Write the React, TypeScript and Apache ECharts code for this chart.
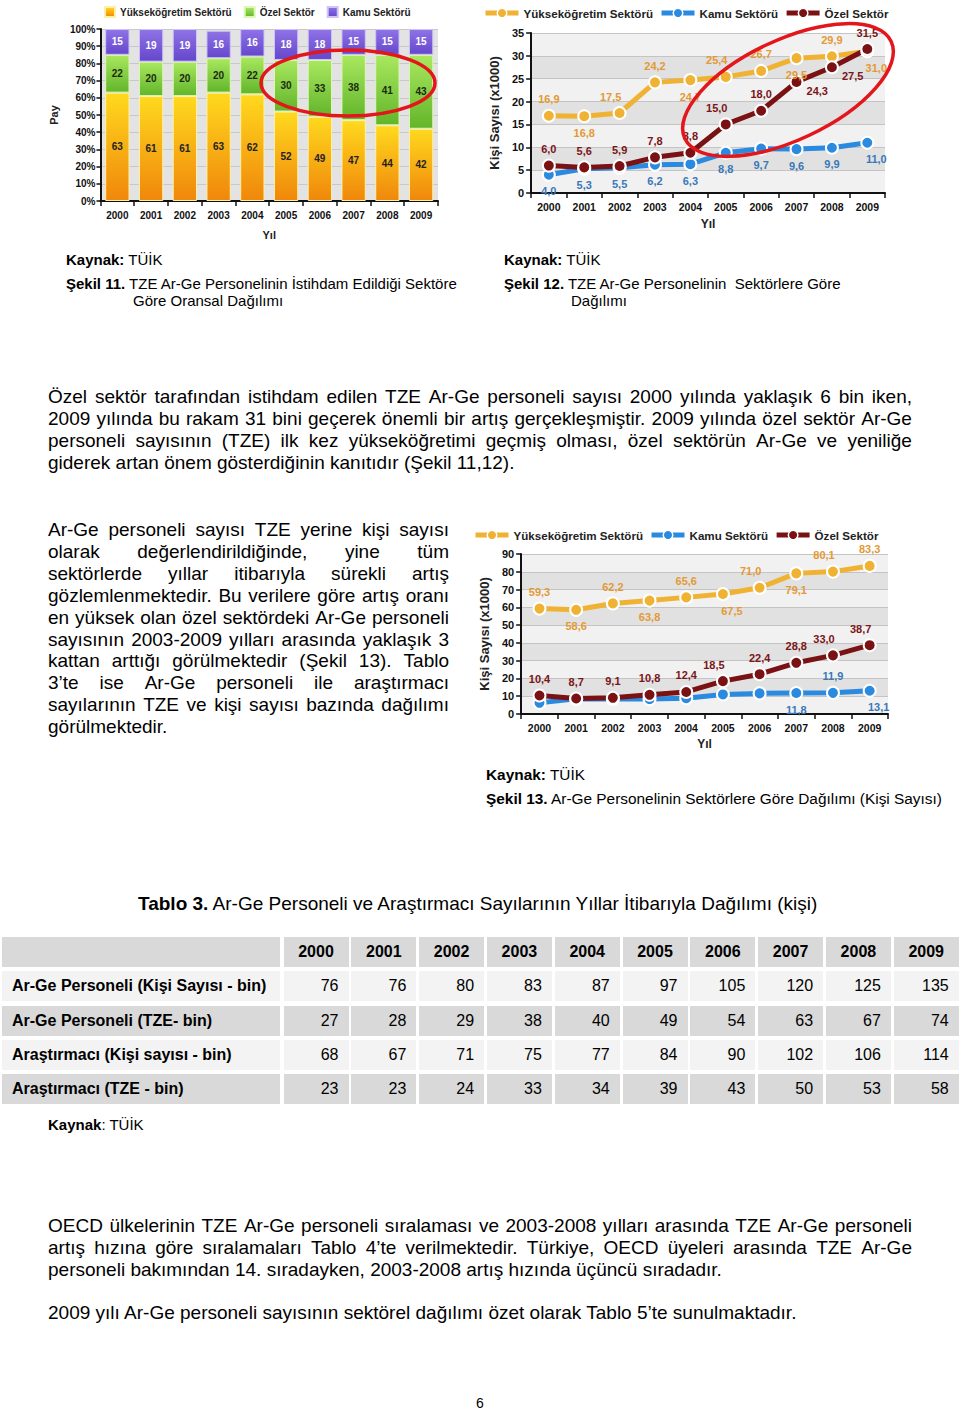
import React, { useEffect, useRef } from "react";
import * as echarts from "echarts";

const FONT = '"Liberation Sans", Arial, Helvetica, sans-serif';

// ---------- DATA ----------
const years = ["2000", "2001", "2002", "2003", "2004", "2005", "2006", "2007", "2008", "2009"];

// Şekil 11 – share (%)
const shareYuk = [63, 61, 61, 63, 62, 52, 49, 47, 44, 42];
const shareOzel = [22, 20, 20, 20, 22, 30, 33, 38, 41, 43];
const shareKamu = [15, 19, 19, 16, 16, 18, 18, 15, 15, 15];
const shareTicks = [0, 10, 20, 30, 40, 50, 60, 70, 80, 90, 100];

// Şekil 12 – TZE (x1000)
const tzeYuk = [16.9, 16.8, 17.5, 24.2, 24.7, 25.4, 26.7, 29.5, 29.9, 31.0];
const tzeKamu = [4.0, 5.3, 5.5, 6.2, 6.3, 8.8, 9.7, 9.6, 9.9, 11.0];
const tzeOzel = [6.0, 5.6, 5.9, 7.8, 8.8, 15.0, 18.0, 24.3, 27.5, 31.5];
const tzeYukPos = ["t", "b", "tl", "t", "b", "tl", "t", "b", "t", "br"];
const tzeKamuPos = ["b", "b", "b", "b", "b", "b", "b", "b", "b", "br"];
const tzeOzelPos = ["t", "t", "t", "t", "t", "tl", "t", "r", "r", "t"];

// Şekil 13 – headcount (x1000)
const kisiYuk = [59.3, 58.6, 62.2, 63.8, 65.6, 67.5, 71.0, 79.1, 80.1, 83.3];
const kisiKamu = [6.3, 8.5, 8.5, 8.4, 8.9, 11.0, 11.6, 11.8, 11.9, 13.1];
const kisiOzel = [10.4, 8.7, 9.1, 10.8, 12.4, 18.5, 22.4, 28.8, 33.0, 38.7];
const kisiYukPos = ["t", "b", "t", "b", "t", "br", "tl", "b", "tl", "t"];
const kisiKamuPos = ["n", "n", "n", "n", "n", "n", "n", "b", "t", "br"];
const kisiOzelPos = ["t", "t", "t", "t", "t", "tl", "t", "t", "tl", "tl"];

// Tablo 3
const tableLabels = [
  "Ar-Ge Personeli (Kişi Sayısı - bin)",
  "Ar-Ge Personeli (TZE- bin)",
  "Araştırmacı (Kişi sayısı - bin)",
  "Araştırmacı (TZE - bin)",
];
const personelKisi = [76, 76, 80, 83, 87, 97, 105, 120, 125, 135];
const personelTze = [27, 28, 29, 38, 40, 49, 54, 63, 67, 74];
const arastirmaciKisi = [68, 67, 71, 75, 77, 84, 90, 102, 106, 114];
const arastirmaciTze = [23, 23, 24, 33, 34, 39, 43, 50, 53, 58];
const tableValues = [personelKisi, personelTze, arastirmaciKisi, arastirmaciTze];

// Text
const para1 = [
  "Özel sektör tarafından istihdam edilen TZE Ar-Ge personeli sayısı 2000 yılında yaklaşık 6 bin iken,",
  "2009 yılında bu rakam 31 bini geçerek önemli bir artış gerçekleşmiştir. 2009 yılında özel sektör Ar-Ge",
  "personeli sayısının (TZE) ilk kez yükseköğretimi geçmiş olması, özel sektörün Ar-Ge ve yeniliğe",
  "giderek artan önem gösterdiğinin kanıtıdır (Şekil 11,12).",
];
const para2 = [
  "Ar-Ge personeli sayısı TZE yerine kişi sayısı",
  "olarak değerlendirildiğinde, yine tüm",
  "sektörlerde yıllar itibarıyla sürekli artış",
  "gözlemlenmektedir. Bu verilere göre artış oranı",
  "en yüksek olan özel sektördeki Ar-Ge personeli",
  "sayısının 2003-2009 yılları arasında yaklaşık 3",
  "kattan arttığı görülmektedir (Şekil 13). Tablo",
  "3’te ise Ar-Ge personeli ile araştırmacı",
  "sayılarının TZE ve kişi sayısı bazında dağılımı",
  "görülmektedir.",
];
const para3 = [
  "OECD ülkelerinin TZE Ar-Ge personeli sıralaması ve 2003-2008 yılları arasında TZE Ar-Ge personeli",
  "artış hızına göre sıralamaları Tablo 4’te verilmektedir. Türkiye, OECD üyeleri arasında TZE Ar-Ge",
  "personeli bakımından 14. sıradayken, 2003-2008 artış hızında üçüncü sıradadır.",
];
const para4 = "2009 yılı Ar-Ge personeli sayısının sektörel dağılımı özet olarak Tablo 5’te sunulmaktadır.";

// ---------- HELPERS ----------
const fmt = (v: number) => v.toFixed(1).replace(".", ",");
const bold = (size: number, color = "#111") => ({
  fontFamily: FONT,
  fontWeight: "bold" as const,
  fontSize: size,
  color,
});

function labelFor(code: string): any {
  switch (code) {
    case "t":
      return { show: true, position: "top", distance: 4 };
    case "b":
      return { show: true, position: "bottom", distance: 4 };
    case "tl":
      return { show: true, position: "top", distance: 4, offset: [-9, 0] };
    case "br":
      return { show: true, position: "bottom", distance: 4, offset: [9, 0] };
    case "r":
      return { show: true, position: "right", distance: 3, offset: [0, 9] };
    default:
      return { show: false };
  }
}

function lineSeries(name: string, values: number[], pos: string[], color: string, labelColor: string) {
  return {
    name,
    type: "line",
    data: values.map((v, i) => ({ value: v, label: labelFor(pos[i]) })),
    symbol: "circle",
    symbolSize: 12,
    lineStyle: { width: 5, color },
    itemStyle: { color, borderColor: "#ffffff", borderWidth: 2 },
    label: { show: true, ...bold(11, labelColor), formatter: (p: any) => fmt(p.value) },
    emphasis: { disabled: true },
  };
}

function lineOption(cfg: any) {
  return {
    animation: false,
    legend: {
      left: 3,
      top: cfg.legendTop,
      padding: 0,
      itemWidth: 33,
      itemHeight: 12,
      itemGap: 6,
      lineStyle: { width: 5 },
      itemStyle: { borderColor: "#ffffff", borderWidth: 1.5 },
      textStyle: bold(11.6, "#222"),
      data: ["Yükseköğretim Sektörü", "Kamu Sektörü", "Özel Sektör"],
    },
    grid: cfg.grid,
    xAxis: {
      type: "category",
      data: years,
      axisLine: { lineStyle: { color: "#111", width: 2 } },
      axisTick: { show: true, length: 5, lineStyle: { color: "#111", width: 1.5 } },
      axisLabel: { ...bold(10.5), margin: 8 },
      name: "Yıl",
      nameLocation: "middle",
      nameGap: cfg.xNameGap,
      nameTextStyle: bold(12, "#222"),
    },
    yAxis: {
      type: "value",
      min: 0,
      max: cfg.max,
      interval: cfg.interval,
      axisLine: { show: true, lineStyle: { color: "#111", width: 2 } },
      axisTick: { show: true, length: 5, lineStyle: { color: "#111", width: 1.5 } },
      axisLabel: { ...bold(11), margin: 7 },
      splitLine: { lineStyle: { color: "#c4c4c4" } },
      splitArea: { show: true, areaStyle: { color: ["#f1f1f1", "#e1e1e1"] } },
      name: "Kişi Sayısı (x1000)",
      nameLocation: "middle",
      nameGap: cfg.yNameGap,
      nameTextStyle: bold(13, "#222"),
    },
    series: cfg.series,
    graphic: cfg.graphic || [],
  };
}

function Chart({ option, style }: { option: any; style: any }) {
  const ref = useRef<HTMLDivElement>(null);
  useEffect(() => {
    if (!ref.current) return;
    const c = echarts.init(ref.current, null, { renderer: "svg" });
    c.setOption(option);
    return () => c.dispose();
  }, []);
  return <div ref={ref} style={{ position: "absolute", ...style }} />;
}

const grad = (a: string, b: string) =>
  new echarts.graphic.LinearGradient(0, 0, 0, 1, [
    { offset: 0, color: a },
    { offset: 1, color: b },
  ]);

function barOption() {
  const barLabel = (color: string) => ({ show: true, position: "inside", ...bold(10, color) });
  return {
    animation: false,
    legend: {
      left: 64,
      top: 6,
      padding: 0,
      icon: "rect",
      itemWidth: 10,
      itemHeight: 10,
      itemGap: 12,
      textStyle: bold(10, "#222"),
      data: ["Yükseköğretim Sektörü", "Özel Sektör", "Kamu Sektörü"],
    },
    grid: { left: 52, right: 12, top: 29, bottom: 43, show: true, backgroundColor: "#e3e3e3", borderWidth: 0 },
    xAxis: {
      type: "category",
      data: years,
      axisLine: { lineStyle: { color: "#111", width: 2 } },
      axisTick: { show: true, length: 5, lineStyle: { color: "#111", width: 1.5 } },
      axisLabel: { ...bold(10), margin: 9 },
      name: "Yıl",
      nameLocation: "middle",
      nameGap: 28,
      nameTextStyle: bold(11, "#222"),
    },
    yAxis: {
      type: "value",
      min: shareTicks[0],
      max: shareTicks[shareTicks.length - 1],
      interval: 10,
      axisLine: { show: true, lineStyle: { color: "#111", width: 2 } },
      axisTick: { show: true, length: 4, lineStyle: { color: "#111", width: 1.5 } },
      axisLabel: { ...bold(10), margin: 5, formatter: "{value}%" },
      splitLine: { lineStyle: { color: "#c8c8c8" } },
      name: "Pay",
      nameLocation: "middle",
      nameGap: 37,
      nameTextStyle: bold(11, "#222"),
    },
    series: [
      {
        name: "Yükseköğretim Sektörü",
        type: "bar",
        stack: "s",
        barWidth: "72%",
        data: shareYuk,
        itemStyle: { color: grad("#ffd91e", "#f0870b"), borderColor: "#fff0a8", borderWidth: 1 },
        label: barLabel("#222"),
      },
      {
        name: "Özel Sektör",
        type: "bar",
        stack: "s",
        data: shareOzel,
        itemStyle: { color: grad("#a9e85f", "#62b52a"), borderColor: "#dcf7b8", borderWidth: 1 },
        label: barLabel("#1d2a10"),
      },
      {
        name: "Kamu Sektörü",
        type: "bar",
        stack: "s",
        data: shareKamu,
        itemStyle: { color: grad("#8f73e6", "#6547cc"), borderColor: "#cfc4f5", borderWidth: 1 },
        label: barLabel("#ffffff"),
      },
    ],
    graphic: [
      {
        type: "ellipse",
        x: 308,
        y: 83,
        shape: { cx: 0, cy: 0, rx: 87, ry: 33 },
        style: { fill: "none", stroke: "#e3161c", lineWidth: 3.5 },
        z: 100,
      },
    ],
  };
}

const line2 = lineOption({
  legendTop: 7,
  grid: { left: 45, right: 15, top: 33, bottom: 39 },
  xNameGap: 25,
  yNameGap: 28,
  max: 35,
  interval: 5,
  series: [
    lineSeries("Yükseköğretim Sektörü", tzeYuk, tzeYukPos, "#f0b232", "#e39a35"),
    lineSeries("Kamu Sektörü", tzeKamu, tzeKamuPos, "#2a8ae0", "#3a78b8"),
    lineSeries("Özel Sektör", tzeOzel, tzeOzelPos, "#7a1214", "#7a1518"),
  ],
  graphic: [
    {
      type: "ellipse",
      x: 308,
      y: 90,
      rotation: 0.44,
      shape: { cx: 0, cy: 0, rx: 114, ry: 50 },
      style: { fill: "none", stroke: "#e3161c", lineWidth: 3.5 },
      z: 100,
    },
  ],
});

const line3 = lineOption({
  legendTop: 9,
  grid: { left: 47, right: 12, top: 34, bottom: 41 },
  xNameGap: 22,
  yNameGap: 25,
  max: 90,
  interval: 10,
  series: [
    lineSeries("Yükseköğretim Sektörü", kisiYuk, kisiYukPos, "#f0b232", "#e39a35"),
    lineSeries("Kamu Sektörü", kisiKamu, kisiKamuPos, "#2a8ae0", "#3a78b8"),
    lineSeries("Özel Sektör", kisiOzel, kisiOzelPos, "#7a1214", "#7a1518"),
  ],
});

// ---------- TEXT COMPONENTS ----------
function JLine({ text, last }: { text: string; last?: boolean }) {
  if (last) return <div style={{ whiteSpace: "nowrap" }}>{text}</div>;
  const words = text.split(" ");
  return (
    <div style={{ display: "flex", justifyContent: "space-between", whiteSpace: "nowrap" }}>
      {words.map((w, i) => (
        <span key={i}>{w}</span>
      ))}
    </div>
  );
}

function Para({ lines, left, top, width, lh }: { lines: string[]; left: number; top: number; width: number; lh: number }) {
  return (
    <div style={{ position: "absolute", left, top, width, fontSize: 19, lineHeight: lh + "px" }}>
      {lines.map((l, i) => (
        <JLine key={i} text={l} last={i === lines.length - 1} />
      ))}
    </div>
  );
}

function T({ left, top, size = 15, children, style }: any) {
  return (
    <div style={{ position: "absolute", left, top, fontSize: size, lineHeight: "18px", whiteSpace: "nowrap", ...style }}>
      {children}
    </div>
  );
}

function Table() {
  const rowTops = [937, 971, 1006, 1040, 1074];
  const rowBg = ["#d9d9d9", "#f3f3f3", "#d9d9d9", "#f3f3f3", "#d9d9d9"];
  const colLeft = (i: number) => 283.5 + i * 67.8;
  const cells: any[] = [];
  rowTops.forEach((top, r) => {
    cells.push(
      <div
        key={"l" + r}
        style={{
          position: "absolute",
          left: 2,
          top,
          width: 278,
          height: 30,
          background: rowBg[r],
          fontWeight: "bold",
          fontSize: 16,
          lineHeight: "30px",
          paddingLeft: 10,
          boxSizing: "border-box",
          whiteSpace: "nowrap",
        }}
      >
        {r === 0 ? "" : tableLabels[r - 1]}
      </div>
    );
    years.forEach((y, c) => {
      cells.push(
        <div
          key={r + "-" + c}
          style={{
            position: "absolute",
            left: colLeft(c),
            top,
            width: 65,
            height: 30,
            background: rowBg[r],
            fontSize: 16,
            lineHeight: "30px",
            fontWeight: r === 0 ? "bold" : "normal",
            textAlign: r === 0 ? "center" : "right",
            paddingRight: r === 0 ? 0 : 10,
            boxSizing: "border-box",
          }}
        >
          {r === 0 ? y : String(tableValues[r - 1][c])}
        </div>
      );
    });
  });
  return <>{cells}</>;
}

export default function App() {
  return (
    <div
      style={{
        position: "absolute",
        left: 0,
        top: 0,
        width: 960,
        height: 1411,
        background: "#ffffff",
        fontFamily: FONT,
        color: "#000",
        overflow: "hidden",
      }}
    >
      <Chart option={barOption()} style={{ left: 40, top: 0, width: 410, height: 245 }} />
      <Chart option={line2} style={{ left: 480, top: 0, width: 420, height: 235 }} />
      <Chart option={line3} style={{ left: 470, top: 520, width: 430, height: 235 }} />

      <T left={66} top={251}>
        <b>Kaynak:</b> TÜİK
      </T>
      <T left={66} top={275}>
        <b>Şekil 11.</b> TZE Ar-Ge Personelinin İstihdam Edildiği Sektöre
      </T>
      <T left={133} top={292}>Göre Oransal Dağılımı</T>

      <T left={504} top={251}>
        <b>Kaynak:</b> TÜİK
      </T>
      <T left={504} top={275} style={{ whiteSpace: "pre" }}>
        <b>Şekil 12.</b> TZE Ar-Ge Personelinin  Sektörlere Göre
      </T>
      <T left={571} top={292}>Dağılımı</T>

      <Para lines={para1} left={48} top={386} width={864} lh={22} />
      <Para lines={para2} left={48} top={519} width={401} lh={21.9} />

      <T left={486} top={766} size={15.4}>
        <b>Kaynak:</b> TÜİK
      </T>
      <T left={486} top={790} size={15.4}>
        <b>Şekil 13.</b> Ar-Ge Personelinin Sektörlere Göre Dağılımı (Kişi Sayısı)
      </T>

      <T left={138} top={893} size={19} style={{ lineHeight: "22px" }}>
        <b>Tablo 3.</b> Ar-Ge Personeli ve Araştırmacı Sayılarının Yıllar İtibarıyla Dağılımı (kişi)
      </T>

      <Table />

      <T left={48} top={1116}>
        <b>Kaynak</b>: TÜİK
      </T>

      <Para lines={para3} left={48} top={1215} width={864} lh={22} />
      <T left={48} top={1302} size={19} style={{ lineHeight: "22px" }}>
        {para4}
      </T>

      <T left={476} top={1396} size={14} style={{ lineHeight: "14px" }}>
        6
      </T>
    </div>
  );
}
